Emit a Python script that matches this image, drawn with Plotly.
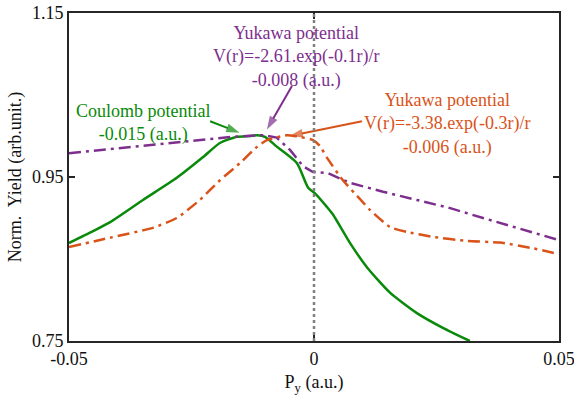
import plotly.graph_objects as go

# Coulomb potential (green, solid)
coul_x = [-0.05, -0.0451, -0.0416, -0.0349, -0.0280, -0.0227, -0.0192, -0.0157, -0.0131, -0.0116,
          -0.0100, -0.0076, -0.0035, -0.0012, 0.0002, 0.0027, 0.0039, 0.0073, 0.0108, 0.0155,
          0.0210, 0.0263, 0.0318]
coul_y = [0.8695, 0.884, 0.895, 0.922, 0.949, 0.974, 0.9915, 0.999, 1.000, 1.001,
          0.999, 0.987, 0.967, 0.937, 0.930, 0.913, 0.904, 0.870, 0.840, 0.809,
          0.784, 0.766, 0.750]

# Yukawa potential, 0.1 (purple, dash-dot)
yuk1_x = [-0.05, -0.0369, -0.0233, -0.0165, -0.0104, -0.0076, -0.0049, -0.0022, -0.0002, 0.0027,
          0.0073, 0.0141, 0.0210, 0.0278, 0.0345, 0.0414, 0.050]
yuk1_y = [0.979, 0.987, 0.995, 0.999, 1.001, 0.998, 0.983, 0.963, 0.956, 0.955,
          0.943, 0.932, 0.922, 0.912, 0.900, 0.888, 0.873]

# Yukawa potential, 0.3 (orange, dash-dot)
yuk3_x = [-0.05, -0.0416, -0.0329, -0.0280, -0.0233, -0.0192, -0.0151, -0.0116, -0.0096, -0.0055,
          -0.0029, -0.0002, 0.0012, 0.0027, 0.0059, 0.0094, 0.0114, 0.0155, 0.0190, 0.0243,
          0.0312, 0.0380, 0.0447, 0.050]
yuk3_y = [0.8646, 0.876, 0.888, 0.900, 0.922, 0.946, 0.967, 0.987, 0.995, 1.001,
          0.999, 0.995, 0.988, 0.973, 0.946, 0.923, 0.910, 0.889, 0.883, 0.877,
          0.872, 0.870, 0.863, 0.856]

x_ticks = [-0.05, 0, 0.05]
x_tick_labels = ["-0.05", "0", "0.05"]
y_ticks = [0.75, 0.95, 1.15]
y_tick_labels = ["0.75", "0.95", "1.15"]

GREEN = "#0a8a0a"
PURPLE = "#7e2f8e"
ORANGE = "#d95319"
FONT = "Times New Roman, Liberation Serif, serif"
FS = 18

fig = go.Figure()
fig.add_trace(go.Scatter(x=coul_x, y=coul_y, mode="lines", line_shape="spline",
                         line=dict(color=GREEN, width=2.5, smoothing=0.6), name="Coulomb"))
fig.add_trace(go.Scatter(x=yuk1_x, y=yuk1_y, mode="lines",
                         line=dict(color=PURPLE, width=2.5, dash="12px,5px,3px,5px"), name="Yukawa 0.1"))
fig.add_trace(go.Scatter(x=yuk3_x, y=yuk3_y, mode="lines", line_shape="spline",
                         line=dict(color=ORANGE, width=2.5, dash="12px,5px,3px,5px", smoothing=0.5),
                         name="Yukawa 0.3"))

fig.add_shape(type="line", x0=0, x1=0, y0=0, y1=1, xref="x", yref="paper",
              line=dict(color="#808080", width=2.5, dash="dot"))

def arrow(x, y, ax, ay, color):
    fig.add_trace(go.Scatter(x=[ax, x], y=[ay, y], mode="lines+markers",
                             line=dict(color=color, width=2),
                             marker=dict(symbol="arrow", size=[0, 14], angleref="previous",
                                         color=color, line=dict(width=0)),
                             hoverinfo="skip"))

def label(x, y, text, color):
    fig.add_annotation(x=x, y=y, xref="x", yref="y", text=text, showarrow=False,
                       font=dict(family=FONT, size=FS, color=color), align="center")

label(-0.0347, 1.016, "Coulomb potential<br>-0.015 (a.u.)", GREEN)
arrow(-0.0152, 1.004, -0.0212, 1.018, GREEN)
label(-0.0035, 1.096, "Yukawa potential<br>V(r)=-2.61.exp(-0.1r)/r<br>-0.008 (a.u.)", PURPLE)
arrow(-0.0096, 1.008, -0.0045, 1.061, PURPLE)
label(0.0273, 1.015, "Yukawa potential<br>V(r)=-3.38.exp(-0.3r)/r<br>-0.006 (a.u.)", ORANGE)
arrow(-0.0050, 1.0, 0.0098, 1.018, ORANGE)

axis_common = dict(showline=True, linewidth=2, linecolor="#262626", mirror="ticks",
                   ticks="inside", ticklen=6, tickwidth=2, tickcolor="#262626",
                   showgrid=False, zeroline=False, automargin=False,
                   ticklabeloverflow="allow",
                   tickfont=dict(family=FONT, size=FS, color="#111"))

fig.update_xaxes(range=[-0.05, 0.05], tickvals=x_ticks, ticktext=x_tick_labels,
                 title=dict(text="P<sub>y</sub> (a.u.)", font=dict(family=FONT, size=FS, color="#111"),
                            standoff=8),
                 **axis_common)
fig.update_yaxes(range=[0.75, 1.15], tickvals=y_ticks, ticktext=y_tick_labels,
                 title=dict(text="Norm.  Yield (arb.unit.)", font=dict(family=FONT, size=FS, color="#111"),
                            standoff=6),
                 **axis_common)

fig.update_layout(width=574, height=398, margin=dict(l=69, r=15, t=13, b=57),
                  paper_bgcolor="white", plot_bgcolor="white", showlegend=False)

fig.write_html("out.html")
